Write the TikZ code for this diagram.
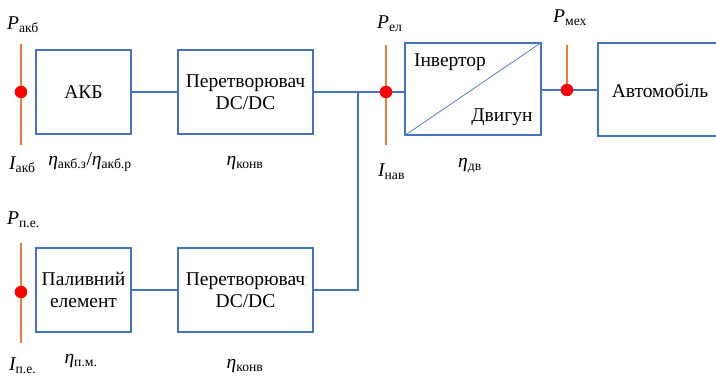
\documentclass[tikz,border=0pt]{standalone}
\usepackage{fontspec}
\setmainfont{Liberation Serif}
\begin{document}
\begin{tikzpicture}[x=1pt,y=-1pt,
  blk/.style={draw=boxblue,line width=1.6pt,inner sep=0pt,align=center,font=\fontsize{19.5}{22}\selectfont},
  conn/.style={draw=boxblue,line width=1.6pt},
  probe/.style={draw=probeorange,line width=2pt},
  dotm/.style={circle,fill=red,inner sep=0pt,minimum size=12.5pt},
  lbl/.style={inner sep=0pt,font=\fontsize{19.5}{22}\selectfont},
  txt/.style={inner sep=0pt,font=\fontsize{19.5}{22}\selectfont}]
\definecolor{boxblue}{HTML}{4472C4}
\definecolor{probeorange}{HTML}{ED7D31}
\path[use as bounding box,fill=white] (0,0) rectangle (716,379);
% boxes
\node[blk,minimum width=95pt,minimum height=84pt] (akb) at (83.5,92) {АКБ};
\node[blk,minimum width=135pt,minimum height=84pt] (conv1) at (245.5,92) {Перетворювач\\DC/DC};
\node[blk,minimum width=95pt,minimum height=84pt] (pe) at (83.5,290) {Паливний\\елемент};
\node[blk,minimum width=135pt,minimum height=84pt] (conv2) at (245.5,290) {Перетворювач\\DC/DC};
\node[blk,minimum width=136pt,minimum height=92pt] (inv) at (473,89) {};
\node[blk,minimum width=124pt,minimum height=93pt] (car) at (660,89.5) {};
\node[txt] (cartxt) at (660,91) {Автомобіль};
\draw[boxblue,line width=0.7pt] (inv.south west) -- (inv.north east);
\node[txt] (invtxt) at (450,62) {Інвертор};
\node[txt] (mottxt) at (502,117) {Двигун};
% connectors
\coordinate (j) at (358,92);
\draw[conn] (akb.east) -- (conv1.west);
\draw[conn] (pe.east) -- (conv2.west);
\draw[conn] (conv1.east) -- (j);
\draw[conn] (conv2.east) -| (j);
\coordinate (pel) at (386,92);
\draw[conn] (j) -- (pel) -- (pel -| inv.west);
\coordinate (pmech) at (567,90);
\draw[conn] (inv.east |- pmech) -- (pmech) -- (pmech -| car.west);
% probes
\coordinate (pakb) at (21,92);
\coordinate (ppe) at (21,292);
\draw[probe] (21,44) -- (21,145);
\draw[probe] (21,243) -- (21,343);
\draw[probe] (386,45) -- (386,145);
\draw[probe] (567,45) -- (567,90);
\node[dotm] (d1) at (pakb) {};
\node[dotm] (d2) at (ppe) {};
\node[dotm] (d3) at (pel) {};
\node[dotm] (d4) at (pmech) {};
% labels
\node[lbl,anchor=west] (lpakb) at (7,25) {\itshape P\textsubscript{\upshape акб}};
\node[lbl,anchor=west] (liakb) at (9,165) {\itshape I\textsubscript{\upshape акб}};
\node[lbl] (leakb) at (90,162) {\itshape η\textsubscript{\upshape акб.з}\upshape/\itshape η\textsubscript{\upshape акб.р}};
\node[lbl] (lek1) at (245,163) {\itshape η\textsubscript{\upshape конв}};
\node[lbl,anchor=west] (lppe) at (7,220) {\itshape P\textsubscript{\upshape п.е.}};
\node[lbl,anchor=west] (lipe) at (9,366) {\itshape I\textsubscript{\upshape п.е.}};
\node[lbl] (lepm) at (81,361) {\itshape η\textsubscript{\upshape п.м.}};
\node[lbl] (lek2) at (245,366) {\itshape η\textsubscript{\upshape конв}};
\node[lbl,anchor=west] (lpel) at (377,24) {\itshape P\textsubscript{\upshape ел}};
\node[lbl,anchor=west] (linav) at (378,172) {\itshape I\textsubscript{\upshape нав}};
\node[lbl] (ledv) at (470,166) {\itshape η\textsubscript{\upshape дв}};
\node[lbl,anchor=west] (lpmech) at (553,18) {\itshape P\textsubscript{\upshape мех}};
\end{tikzpicture}
\end{document}
